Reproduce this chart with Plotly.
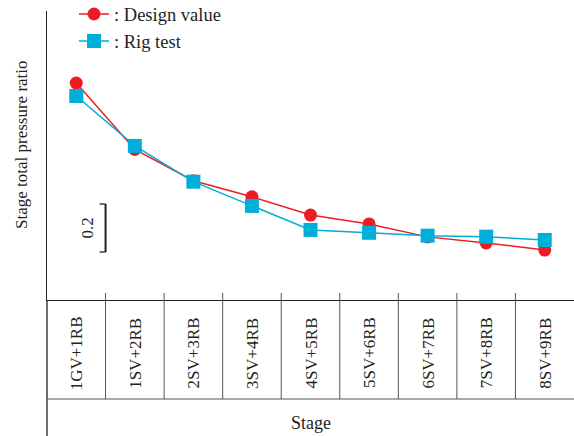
import plotly.graph_objects as go

categories = ["1GV+1RB", "1SV+2RB", "2SV+3RB", "3SV+4RB", "4SV+5RB",
              "5SV+6RB", "6SV+7RB", "7SV+8RB", "8SV+9RB"]
design_value = [1.804, 1.527, 1.397, 1.330, 1.254, 1.217, 1.163, 1.138, 1.108]
rig_test = [1.750, 1.542, 1.393, 1.292, 1.192, 1.180, 1.168, 1.164, 1.150]
scale_bar = [1.1, 1.3]  # 0.2 scale bar

FONT = "Liberation Serif"
RED = "#ED1C24"
BLUE = "#00AEDA"
AX = "#231F20"
GRID = "#555555"

W, H = 574, 436
L, R, T, B = 47, 0, 11, 136
ph = H - T - B  # plot height

def py(pix):
    """paper y for a pixel row"""
    return (H - B - pix) / ph

x_idx = list(range(len(categories)))

fig = go.Figure()
fig.add_trace(go.Scatter(
    x=x_idx, y=design_value, mode="lines+markers", name=": Design value",
    line=dict(color=RED, width=1.5),
    marker=dict(symbol="circle", size=13, color=RED)))
fig.add_trace(go.Scatter(
    x=x_idx, y=rig_test, mode="lines+markers", name=": Rig test",
    line=dict(color=BLUE, width=1.5),
    marker=dict(symbol="square", size=14, color=BLUE)))

shapes = []
# left line extension down through the table
shapes.append(dict(type="line", xref="paper", yref="paper", x0=0, x1=0,
                   y0=py(436), y1=0, line=dict(color=AX, width=1.3)))
# horizontal line under the category row
shapes.append(dict(type="line", xref="paper", yref="paper", x0=0, x1=1,
                   y0=py(399), y1=py(399), line=dict(color=GRID, width=1)))
# vertical cell separators (also form the inside ticks)
for k in range(len(categories) - 1):
    shapes.append(dict(type="line", xref="x", yref="paper", x0=k + 0.5, x1=k + 0.5,
                       y0=py(399), y1=py(293), line=dict(color=GRID, width=1)))
# scale bar
sx = 0.5
serif = 6 / ((W - L - R) / 9)
shapes.append(dict(type="line", xref="x", yref="y", x0=sx, x1=sx,
                   y0=scale_bar[0], y1=scale_bar[1], line=dict(color=AX, width=2)))
for v in scale_bar:
    shapes.append(dict(type="line", xref="x", yref="y", x0=sx - serif, x1=sx,
                       y0=v, y1=v, line=dict(color=AX, width=1.3)))

txt = dict(showarrow=False, xanchor="center", yanchor="middle")
annotations = []
for i, c in enumerate(categories):
    annotations.append(dict(x=i, y=py(353), xref="x", yref="paper", text=c,
                            textangle=-90, **txt,
                            font=dict(family=FONT, size=17, color="#231F20")))
annotations.append(dict(x=(311 - L) / (W - L - R), y=py(423), xref="paper", yref="paper",
                        text="Stage", **txt,
                        font=dict(family=FONT, size=18, color="#231F20")))
annotations.append(dict(x=(21 - L) / (W - L - R), y=py(145), xref="paper", yref="paper",
                        text="Stage total pressure ratio", textangle=-90, **txt,
                        font=dict(family=FONT, size=17, color="#231F20")))
annotations.append(dict(x=sx - 0.31, y=sum(scale_bar) / 2, xref="x", yref="y",
                        text=f"{scale_bar[1] - scale_bar[0]:.1f}", textangle=-90, **txt,
                        font=dict(family=FONT, size=17, color="#231F20")))

fig.update_layout(
    width=W, height=H,
    margin=dict(l=L, r=R, t=T, b=B, autoexpand=False),
    paper_bgcolor="white", plot_bgcolor="white",
    font=dict(family=FONT, size=18, color="#231F20"),
    showlegend=True,
    legend=dict(x=(74 - L) / (W - L - R), y=1 + 15.5 / ph, xanchor="left", yanchor="top",
                bgcolor="rgba(0,0,0,0)", font=dict(family=FONT, size=18.5, color="#231F20"),
                tracegroupgap=0, itemwidth=30),
    xaxis=dict(range=[-0.5, 8.5], showgrid=False, zeroline=False,
               showline=True, linecolor=AX, linewidth=1.3,
               tickvals=x_idx, showticklabels=False, ticks=""),
    yaxis=dict(range=[0.9, 0.9 + ph / 240], showgrid=False, zeroline=False,
               showline=True, linecolor=AX, linewidth=1.3,
               showticklabels=False, ticks=""),
    shapes=shapes, annotations=annotations,
)

fig.write_html("out.html")
